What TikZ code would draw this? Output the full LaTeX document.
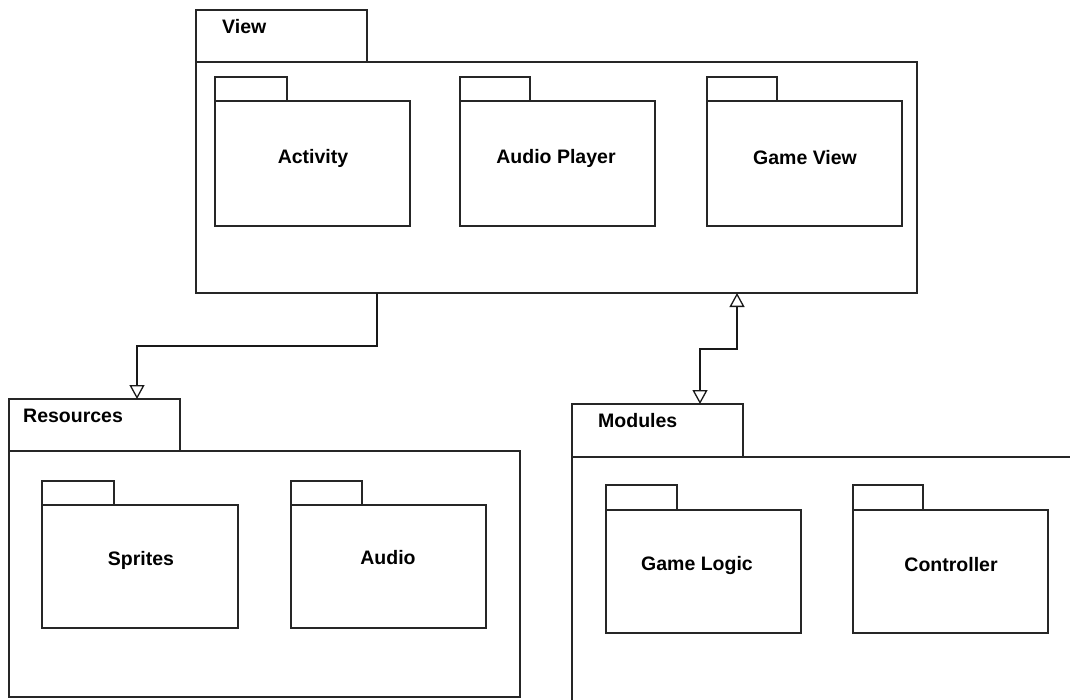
\documentclass[tikz,border=0pt]{standalone}
\usepackage{fontspec}
\setmainfont{Liberation Sans}
\usetikzlibrary{arrows.meta}
\tikzset{
  box/.style={draw=black!85, line width=1.4pt, fill=white, inner sep=0pt, outer sep=0pt, anchor=north west},
  lbl/.style={font=\fontsize{19.5}{22}\selectfont\bfseries, inner sep=0pt, text=black},
  tablbl/.style={lbl, anchor=west},
  conn/.style={draw=black!90, line width=1.3pt},
  opentip/.tip={Triangle[open, width=15pt, length=14pt, line width=1.3pt]}
}
\newcommand{\pkgbox}[7]{%
  % #1 name, #2 x1, #3 ytab, #4 xtab2, #5 ybody, #6 x2, #7 y2
  \node[box, minimum width=#4pt-#2pt, minimum height=#5pt-#3pt] (#1tab) at (#2,#3) {};
  \node[box, minimum width=#6pt-#2pt, minimum height=#7pt-#5pt] (#1body) at (#2,#5) {};
}
\begin{document}
\begin{tikzpicture}[x=1pt, y=-1pt]
\useasboundingbox (0,0) rectangle (1070,699);
\clip (0,0) rectangle (1070,699);
\fill[white] (0,0) rectangle (1070,699);

% View package
\pkgbox{view}{196}{10}{367}{62}{917}{293}
\node[tablbl] (viewlbl) at (222,27) {View};
\pkgbox{act}{215}{77}{287}{101}{410}{226}
\node[lbl] (actlbl) at (313,158) {Activity};
\pkgbox{ap}{460}{77}{530}{101}{655}{226}
\node[lbl] (aplbl) at (556,158) {Audio Player};
\pkgbox{gv}{707}{77}{777}{101}{902}{226}
\node[lbl] (gvlbl) at (805,158) {Game View};

% Resources package
\pkgbox{res}{9}{399}{180}{451}{520}{697}
\node[tablbl] (reslbl) at (23,416) {Resources};
\pkgbox{spr}{42}{481}{114}{505}{238}{628}
\node[lbl] (sprlbl) at (141,560) {Sprites};
\pkgbox{aud}{291}{481}{362}{505}{486}{628}
\node[lbl] (audlbl) at (388,558) {Audio};

% Modules package
\pkgbox{mod}{572}{404}{743}{457}{1090}{720}
\node[tablbl] (modlbl) at (598,421) {Modules};
\pkgbox{gl}{606}{485}{677}{510}{801}{633}
\node[lbl] (gllbl) at (697,565) {Game Logic};
\pkgbox{ctl}{853}{485}{923}{510}{1048}{633}
\node[lbl] (ctllbl) at (951,565) {Controller};

% connectors
\draw[conn, -{opentip}] ([xshift=181pt]viewbody.south west) -- ++(0,53) -| ([xshift=128pt]restab.north west);
\draw[conn, {opentip}-{opentip}] ([xshift=128pt]modtab.north west) -- ++(0,-55) -| ([xshift=541pt]viewbody.south west);
\end{tikzpicture}
\end{document}
